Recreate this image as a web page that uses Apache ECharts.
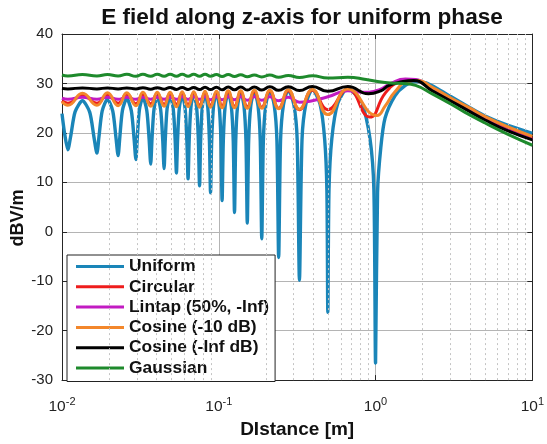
<!DOCTYPE html>
<html><head><meta charset="utf-8">
<script src="https://cdn.jsdelivr.net/npm/echarts@6/dist/echarts.min.js"></script>
<style>html,body{margin:0;padding:0;background:#fff}#c{width:547px;height:444px}</style>
</head><body><div id="c"></div>
<script>
// ---- data ----
const xMajorTicks = [0.01, 0.1, 1, 10];
const xMinorGrid = [0.02,0.03,0.04,0.05,0.06,0.07,0.08,0.09,0.2,0.3,0.4,0.5,0.6,0.7,0.8,0.9,2,3,4,5,6,7,8,9];
const yTicks = [-30,-20,-10,0,10,20,30,40];
const seriesNames = ['Uniform','Circular','Lintap (50%, -Inf)','Cosine (-10 dB)','Cosine (-Inf dB)','Gaussian'];
const seriesColors = ['#1a85b8','#ee1c1c','#c21bc2','#f3872b','#000000','#1e8a2c'];

// Uniform: [distance m, dBV/m]
const uniform = [
 [0.01,23.9],[0.0104,19.8],[0.0109,16.6],[0.01138,19.45],[0.01213,24.3],[0.0135,26.5],
 [0.01502,24.2],[0.016,19.1],[0.0167,15.9],[0.01722,19.3],[0.01805,24.45],[0.0195,26.8],
 [0.02108,24.4],[0.02209,19.05],[0.0228,15.4],[0.02339,19.2],[0.0243,24.55],[0.0259,27.0],
 [0.02769,24.45],[0.02882,18.85],[0.0296,14.6],[0.03021,19.0],[0.03116,24.65],[0.0328,27.2],
 [0.03474,24.55],[0.03595,18.7],[0.0368,13.7],[0.03751,18.8],[0.03861,24.75],[0.0405,27.4],
 [0.04259,24.7],[0.0439,18.55],[0.0448,12.8],[0.04559,18.7],[0.0468,24.85],[0.0489,27.6],
 [0.05125,24.8],[0.05271,18.5],[0.0537,11.9],[0.05461,18.65],[0.056,25.0],[0.0584,27.8],
 [0.06098,24.95],[0.0626,18.4],[0.0637,10.7],[0.06477,18.6],[0.0664,25.15],[0.0692,28.0],
 [0.07223,25.1],[0.07412,18.4],[0.0754,9.3],[0.07662,18.5],[0.07848,25.2],[0.0817,28.1],
 [0.08507,25.2],[0.08718,18.3],[0.0886,7.9],[0.09014,18.4],[0.09252,25.3],[0.0966,28.2],
 [0.1007,25.25],[0.1033,18.3],[0.105,6.3],[0.1069,18.4],[0.1098,25.35],[0.1149,28.3],
 [0.1203,25.3],[0.1237,18.3],[0.126,3.9],[0.1283,18.4],[0.1318,25.4],[0.138,28.4],
 [0.1448,25.4],[0.1491,18.3],[0.152,1.75],[0.1551,18.4],[0.16,25.5],[0.1685,28.5],
 [0.178,25.5],[0.1839,18.35],[0.188,-1.4],[0.1925,18.45],[0.1994,25.6],[0.2115,28.6],
 [0.2258,25.6],[0.2349,18.4],[0.241,-5.2],[0.2478,18.5],[0.2586,25.7],[0.2776,28.7],
 [0.3013,25.7],[0.3164,18.5],[0.327,-9.8],[0.3396,18.6],[0.3593,25.8],[0.395,28.8],
 [0.4426,25.8],[0.4739,18.6],[0.4894,8.3],[0.496,-16.3],[0.5048,8.5],[0.526,18.8],[0.5742,26.0],[0.665,29.0],
 [0.8153,26.0],[0.9217,18.8],[0.9759,8.5],[1.0,-26.6],[1.03,8.0],[1.08,17.0],[1.15,23.0],[1.33,27.5],
 [1.55,29.6],[1.8,30.4],[2.1,30.1],[2.5,28.9],[3,27.4],[4,25.1],[5,23.4],[7,21.5],[10,19.9]
];

// shared near-field distances (alternating Uniform nulls / peaks)
const zNear = [0.01,0.0109,0.0135,0.0167,0.0195,0.0228,0.0259,0.0296,0.0328,0.0368,0.0405,0.0448,0.0489,0.0537,
 0.0584,0.0637,0.0692,0.0754,0.0817,0.0886,0.0966,0.105,0.1149,0.126,0.138,0.152,0.1685,0.188,0.2115,0.241,
 0.2776,0.327,0.395,0.496,0.665];

const circularNear = [26.5,26.0,27.6,26.0,27.7,26.0,27.8,25.9,27.8,25.9,27.9,25.8,27.9,25.8,28.0,25.7,28.0,25.6,
 28.1,25.6,28.1,25.5,28.2,25.4,28.2,25.3,28.3,25.2,28.4,25.0,28.5,24.7,28.6,24.7,28.8];
const circularTail = [[0.92,23.2],[1.15,28.0],[1.4,30.3],[1.65,30.8],[2.3,28.9],[3,26.8],[4,24.6],[5,22.9],[7,20.7],[10,18.8]];

const lintapNear = [27.0,26.8,27.2,26.8,27.2,26.8,27.2,26.8,27.2,26.8,27.2,26.8,27.2,26.8,27.3,26.8,27.3,26.8,
 27.3,26.7,27.3,26.7,27.3,26.7,27.3,26.6,27.3,26.6,27.3,26.5,27.2,26.2,26.5,27.3,28.5];
const lintapTail = [[0.82,28.2],[1.05,28.7],[1.25,30.0],[1.55,30.9],[1.8,30.8],[2.3,28.8],[3,26.6],[4,24.4],[5,22.7],[7,20.5],[10,18.7]];

const cosine10Near = [26.3,25.6,28.0,25.6,28.1,25.5,28.1,25.5,28.2,25.4,28.2,25.4,28.2,25.3,28.3,25.3,28.3,25.2,
 28.4,25.2,28.4,25.1,28.5,25.1,28.5,25.0,28.6,25.0,28.6,24.9,28.7,24.8,28.8,23.7,28.9];
const cosine10Tail = [[1.02,23.5],[1.15,25.4],[1.33,28.3],[1.6,30.4],[1.85,30.6],[2.3,29.2],[3,27.1],[4,25.0],[5,23.3],[7,21.2],[10,19.3]];

const cosineInfNear = [29.0,28.9,29.1,28.9,29.1,28.9,29.1,28.9,29.15,28.85,29.15,28.85,29.2,28.8,29.2,28.8,29.2,28.75,
 29.25,28.75,29.25,28.7,29.3,28.7,29.3,28.65,29.3,28.65,29.35,28.6,29.35,28.55,29.4,28.4,29.4];
const cosineInfTail = [[0.9,27.9],[1.08,28.5],[1.22,29.6],[1.5,30.4],[1.75,30.6],[2.3,28.5],[3,26.5],[4,24.3],[5,22.6],[7,20.4],[10,18.6]];

const gaussianNear = [31.7,31.5,31.8,31.5,31.8,31.5,31.85,31.45,31.85,31.45,31.85,31.45,31.85,31.45,31.85,31.45,31.85,31.45,
 31.85,31.45,31.8,31.4,31.8,31.4,31.75,31.35,31.7,31.3,31.7,31.25,31.6,31.2,31.55,31.1,31.25];
const gaussianTail = [[0.87,30.8],[1.03,30.4],[1.25,30.1],[1.5,30.0],[1.8,29.6],[2.3,27.9],[3,25.9],[3.7,24.2],[5,22.0],[7,19.7],[10,17.5]];

// ---- build chart ----
function join(near, tail){ return zNear.map((z,i)=>[z, near[i]]).concat(tail); }
const FONT = 'Liberation Sans, Arial, Helvetica, sans-serif';
const seriesData = [
  uniform,
  join(circularNear, circularTail),
  join(lintapNear, lintapTail),
  join(cosine10Near, cosine10Tail),
  join(cosineInfNear, cosineInfTail),
  join(gaussianNear, gaussianTail)
];

const chart = echarts.init(document.getElementById('c'), null, {renderer:'canvas'});
const lineSeries = seriesData.map((d,i)=>({
  type:'line', name: seriesNames[i], data: d, showSymbol:false, symbol:'none',
  smooth: i===0 ? 0.25 : 0.5, z: 3 + i,
  lineStyle:{color: seriesColors[i], width: i===0 ? 3.4 : 3},
  itemStyle:{color: seriesColors[i]},
  emphasis:{disabled:true}, animation:false
}));
lineSeries.unshift({
  type:'line', name:'_grid', data:[], silent:true, z:1, animation:false,
  markLine:{silent:true, symbol:['none','none'], animation:false, label:{show:false},
    lineStyle:{type:[2,3], color:'#c4c4c4', width:1},
    data: xMinorGrid.map(v=>({xAxis:v}))}
});

const axisLineStyle = {color:'#262626', width:1};
chart.setOption({
  animation:false,
  backgroundColor:'#ffffff',
  title:{text:'E field along z-axis for uniform phase', left:297, top:1, textAlign:'center',
    textStyle:{fontFamily:FONT, fontSize:22.6, fontWeight:'bold', color:'#111'}},
  grid:{left:62, right:10, top:34, bottom:59, containLabel:false},
  legend:{data:seriesNames, orient:'vertical', left:67, top:255, icon:'rect', itemWidth:48, itemHeight:3,
    itemGap:3.3, padding:[3,6,5,9], backgroundColor:'#fff', borderColor:'#222', borderWidth:1,
    selectedMode:false,
    textStyle:{fontFamily:FONT, fontSize:17.4, fontWeight:'bold', color:'#111', lineHeight:17, height:17}},
  xAxis:[{
    type:'log', logBase:10, min:0.01, max:10, position:'bottom',
    name:'DIstance [m]', nameLocation:'middle', nameGap:38,
    nameTextStyle:{fontFamily:FONT, fontSize:19, fontWeight:'bold', color:'#111'},
    axisLine:{show:true, onZero:false, lineStyle:axisLineStyle},
    axisTick:{show:true, inside:true, length:5, lineStyle:axisLineStyle},
    axisLabel:{margin:16, formatter:function(v){ return '{b|10}{s|' + Math.round(Math.log10(v)) + '}'; },
      rich:{b:{fontFamily:FONT, fontSize:15.5, color:'#222', verticalAlign:'bottom'},
            s:{fontFamily:FONT, fontSize:11, color:'#222', verticalAlign:'top', padding:[0,0,8,0]}}},
    splitLine:{show:true, lineStyle:{color:'#b4b4b4', width:1}},
    minorTick:{show:false}
  },{
    type:'log', logBase:10, min:0.01, max:10, position:'top',
    axisLine:{show:true, onZero:false, lineStyle:axisLineStyle},
    axisTick:{show:true, inside:true, length:5, lineStyle:axisLineStyle},
    axisLabel:{show:false}, splitLine:{show:false}
  }],
  yAxis:[{
    type:'value', min:yTicks[0], max:yTicks[yTicks.length-1], interval:10, position:'left',
    axisLine:{show:true, onZero:false, lineStyle:axisLineStyle},
    axisTick:{show:true, inside:true, length:5, lineStyle:axisLineStyle},
    axisLabel:{margin:9, fontFamily:FONT, fontSize:15, color:'#222'},
    splitLine:{show:true, lineStyle:{color:'#b4b4b4', width:1}}
  },{
    type:'value', min:yTicks[0], max:yTicks[yTicks.length-1], interval:10, position:'right',
    axisLine:{show:true, onZero:false, lineStyle:axisLineStyle},
    axisTick:{show:true, inside:true, length:5, lineStyle:axisLineStyle},
    axisLabel:{show:false}, splitLine:{show:false}
  }],
  graphic:[{
    type:'text', x:18, y:218, rotation:Math.PI/2,
    style:{text:'dBV/m', x:0, y:0, align:'center', verticalAlign:'middle',
      fontFamily:FONT, fontSize:18, fontWeight:'bold', fill:'#111'}
  }],
  series: lineSeries
});
</script></body></html>
